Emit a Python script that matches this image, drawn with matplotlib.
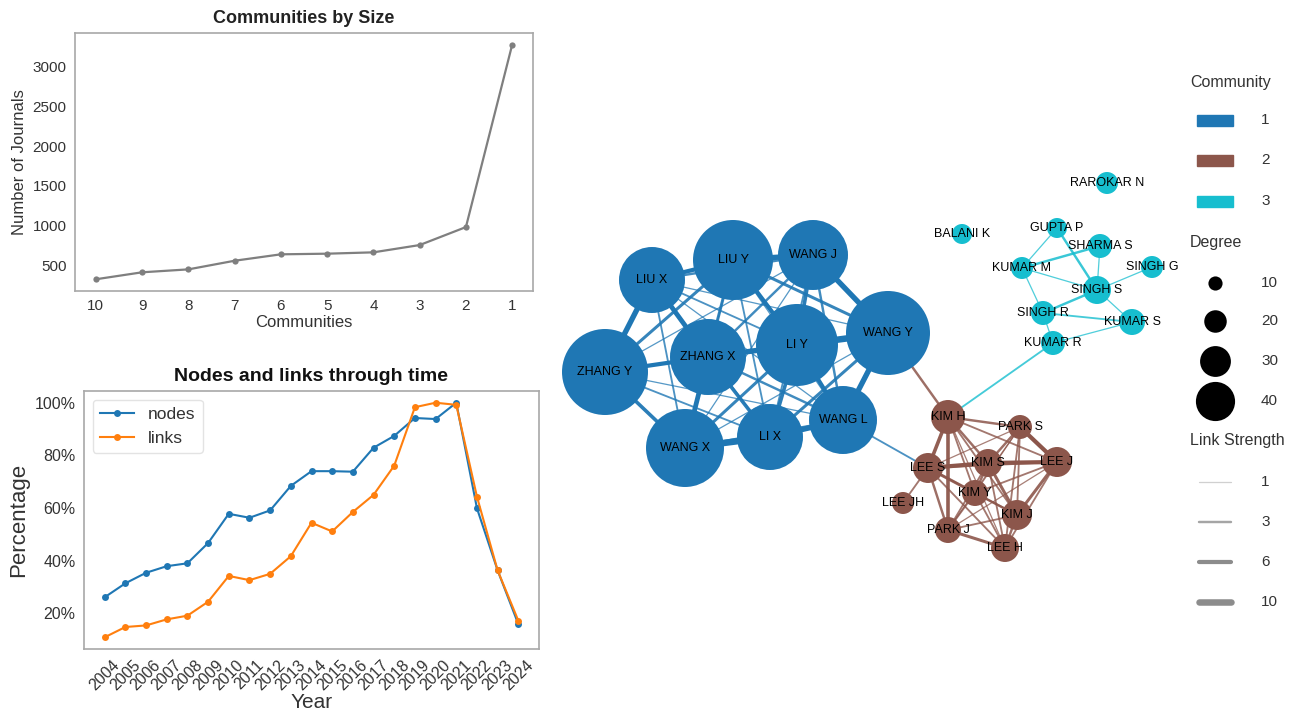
#!/usr/bin/env python3
"""Community size curve, nodes/links growth and the co-author network with its legend."""
import matplotlib; matplotlib.use("Agg")
import matplotlib.pyplot as plt
from matplotlib.ticker import PercentFormatter
from matplotlib.patches import Rectangle

plt.rcParams["font.family"] = ["Liberation Sans", "DejaVu Sans"]
plt.rcParams["text.color"] = "#333333"
plt.rcParams["axes.labelcolor"] = "#333333"
plt.rcParams["xtick.color"] = "#333333"
plt.rcParams["ytick.color"] = "#333333"

# ---------------- data ----------------
comm_ids = ["10", "9", "8", "7", "6", "5", "4", "3", "2", "1"]
comm_sizes = [320, 408, 445, 554, 635, 643, 660, 752, 979, 3281]

years = list(range(2004, 2025))
nodes_pct = [26.1, 31.4, 35.4, 37.9, 39.0, 46.7, 57.8, 56.3, 59.1, 68.4, 74.0,
             74.0, 73.8, 82.9, 87.4, 94.2, 93.8, 100.0, 59.9, 36.3, 15.9]
links_pct = [10.9, 14.8, 15.4, 17.7, 19.1, 24.4, 34.2, 32.6, 35.0, 41.7, 54.4,
             51.1, 58.5, 65.0, 76.1, 98.3, 100.0, 99.2, 64.3, 36.3, 17.2]

# network: author, community, degree, layout x/y (pixel layout of the drawing)
authors = ["LIU X", "LIU Y", "WANG J", "WANG Y", "LI Y", "ZHANG X", "ZHANG Y", "WANG X", "LI X", "WANG L",
           "KIM H", "PARK S", "LEE S", "KIM S", "LEE J", "KIM Y", "LEE JH", "KIM J", "PARK J", "LEE H",
           "RAROKAR N", "BALANI K", "GUPTA P", "SHARMA S", "SINGH G", "KUMAR M", "SINGH S", "SINGH R",
           "KUMAR S", "KUMAR R"]
author_comm = [1] * 10 + [2] * 10 + [3] * 10
author_deg = [31, 38, 33, 40, 39, 36, 41, 37, 31, 32,
              15, 10, 13, 12, 13, 11, 9, 13, 11, 12,
              9, 8, 8, 10, 9, 9, 12, 10, 11, 10]
layout_x = [652, 733, 813, 888, 797, 708, 605, 685, 770, 843,
            948, 1020, 928, 988, 1057, 975, 903, 1017, 948, 1005,
            1107, 962, 1057, 1100, 1152, 1022, 1097, 1043, 1132, 1053]
layout_y = [280, 260, 255, 333, 345, 357, 372, 448, 437, 420,
            417, 427, 468, 463, 462, 493, 503, 515, 530, 548,
            183, 234, 228, 246, 267, 268, 290, 313, 322, 343]

links = [
    # community 1
    ("ZHANG Y", "LIU X", 8), ("ZHANG Y", "ZHANG X", 6), ("ZHANG Y", "WANG X", 5), ("ZHANG Y", "LIU Y", 4),
    ("ZHANG Y", "LI Y", 2), ("ZHANG Y", "LI X", 2), ("ZHANG Y", "WANG L", 1), ("ZHANG Y", "WANG J", 1),
    ("ZHANG Y", "WANG Y", 1), ("LIU X", "LIU Y", 6), ("LIU X", "ZHANG X", 7), ("LIU X", "WANG J", 3),
    ("LIU X", "LI Y", 2), ("LIU X", "WANG X", 2), ("LIU X", "WANG Y", 1), ("LIU X", "LI X", 1),
    ("LIU X", "WANG L", 1), ("LIU Y", "WANG J", 8), ("LIU Y", "LI Y", 6), ("LIU Y", "ZHANG X", 4),
    ("LIU Y", "WANG Y", 4), ("LIU Y", "LI X", 2), ("LIU Y", "WANG X", 1), ("LIU Y", "WANG L", 1),
    ("WANG J", "WANG Y", 8), ("WANG J", "LI Y", 5), ("WANG J", "ZHANG X", 3), ("WANG J", "WANG L", 3),
    ("WANG J", "WANG X", 1), ("WANG J", "LI X", 2), ("WANG Y", "LI Y", 10), ("WANG Y", "WANG L", 8),
    ("WANG Y", "LI X", 4), ("WANG Y", "ZHANG X", 2), ("WANG Y", "WANG X", 1), ("LI Y", "ZHANG X", 8),
    ("LI Y", "LI X", 5), ("LI Y", "WANG L", 6), ("LI Y", "WANG X", 4), ("ZHANG X", "WANG X", 7),
    ("ZHANG X", "LI X", 5), ("ZHANG X", "WANG L", 3), ("WANG X", "LI X", 10), ("WANG X", "WANG L", 3),
    ("LI X", "WANG L", 8),
    # community 2
    ("KIM H", "PARK S", 3), ("KIM H", "LEE S", 5), ("KIM H", "KIM S", 3), ("KIM H", "LEE J", 2),
    ("KIM H", "KIM Y", 2), ("KIM H", "KIM J", 2), ("KIM H", "PARK J", 5), ("KIM H", "LEE H", 1),
    ("PARK S", "LEE S", 1), ("PARK S", "KIM S", 3), ("PARK S", "LEE J", 6), ("PARK S", "KIM Y", 1),
    ("PARK S", "KIM J", 2), ("PARK S", "PARK J", 1), ("PARK S", "LEE H", 2), ("LEE S", "KIM S", 6),
    ("LEE S", "LEE J", 2), ("LEE S", "KIM Y", 4), ("LEE S", "LEE JH", 2), ("LEE S", "KIM J", 2),
    ("LEE S", "PARK J", 3), ("LEE S", "LEE H", 2), ("KIM S", "LEE J", 6), ("KIM S", "KIM Y", 3),
    ("KIM S", "KIM J", 4), ("KIM S", "PARK J", 2), ("KIM S", "LEE H", 2), ("LEE J", "KIM Y", 2),
    ("LEE J", "KIM J", 4), ("LEE J", "PARK J", 1), ("LEE J", "LEE H", 2), ("KIM Y", "KIM J", 3),
    ("KIM Y", "PARK J", 2), ("KIM Y", "LEE H", 2), ("KIM J", "PARK J", 2), ("KIM J", "LEE H", 3),
    ("PARK J", "LEE H", 4),
    # community 3
    ("GUPTA P", "KUMAR M", 1), ("GUPTA P", "SINGH S", 3), ("SHARMA S", "KUMAR M", 3),
    ("SHARMA S", "SINGH S", 1), ("KUMAR M", "SINGH S", 1), ("KUMAR M", "SINGH R", 1),
    ("SINGH S", "SINGH G", 1), ("SINGH S", "SINGH R", 3), ("SINGH S", "KUMAR S", 1),
    ("SINGH R", "KUMAR S", 2), ("SINGH R", "KUMAR R", 1), ("KUMAR R", "KUMAR S", 1),
    # between communities
    ("KIM H", "WANG Y", 3), ("WANG L", "LEE S", 2), ("KUMAR R", "KIM H", 2),
]

legend_comms = ["1", "2", "3"]
legend_degrees = [10, 20, 30, 40]
legend_strengths = [1, 3, 6, 10]

COMM_COLORS = {1: "tab:blue", 2: "tab:brown", 3: "tab:cyan"}
SPINE = "#a8a8a8"


def style(ax):
    for s in ax.spines.values():
        s.set_color(SPINE); s.set_linewidth(1.2)
    ax.tick_params(length=0, pad=6)


def node_pts(deg):       # marker diameter (points) of a network node
    return (2 * deg + 4) * 0.72


def edge_lw(w):
    return 0.5 + 0.42 * w


fig = plt.figure(figsize=(12.9, 7.13), dpi=100)

# ---------------- communities by size ----------------
ax1 = fig.add_axes([75 / 1290, 1 - 291 / 713, 458 / 1290, 258 / 713])
ax1.plot(comm_ids, comm_sizes, color="#7f7f7f", lw=1.6, marker="o", ms=4.5, mew=0)
ax1.set_title("Communities by Size", fontsize=13, fontweight="bold", color="#222222", pad=7)
ax1.set_xlabel("Communities", fontsize=12, labelpad=1)
ax1.set_ylabel("Number of Journals", fontsize=12)
ax1.tick_params(labelsize=11)
style(ax1)

# ---------------- nodes and links through time ----------------
ax2 = fig.add_axes([84 / 1290, 1 - 649 / 713, 455 / 1290, 258 / 713])
ax2.plot(years, nodes_pct, color="tab:blue", lw=1.5, marker="o", ms=5, mew=0, label="nodes")
ax2.plot(years, links_pct, color="tab:orange", lw=1.5, marker="o", ms=5, mew=0, label="links")
ax2.yaxis.set_major_formatter(PercentFormatter(100, decimals=0))
ax2.set_xticks(years)
ax2.set_xticklabels([str(y) for y in years], rotation=45)
ax2.tick_params(labelsize=11.5)
ax2.set_title("Nodes and links through time", fontsize=14, fontweight="bold", color="#111111", pad=7)
ax2.set_xlabel("Year", fontsize=15, labelpad=0)
ax2.set_ylabel("Percentage", fontsize=16)
leg = ax2.legend(loc="upper left", fontsize=12.5, frameon=True)
leg.get_frame().set_edgecolor("#dddddd")
style(ax2)

# ---------------- network (pixel-layout overlay) ----------------
ax = fig.add_axes([0, 0, 1, 1], facecolor="none")
ax.set_xlim(0, 1290); ax.set_ylim(713, 0); ax.axis("off")

idx = {n: i for i, n in enumerate(authors)}
for u, v, w in sorted(links, key=lambda e: e[2]):
    i, j = idx[u], idx[v]
    ax.plot([layout_x[i], layout_x[j]], [layout_y[i], layout_y[j]],
            color=COMM_COLORS[author_comm[i]], lw=edge_lw(w),
            alpha=min(1.0, 0.7 + 0.05 * w), solid_capstyle="butt", zorder=1)

ax.scatter(layout_x, layout_y, s=[node_pts(d) ** 2 for d in author_deg],
           c=[COMM_COLORS[c] for c in author_comm], linewidths=0, zorder=2)
for n, x, y in zip(authors, layout_x, layout_y):
    ax.text(x, y, n, fontsize=9, color="black", ha="center", va="center", zorder=3)

# ---------------- network legend ----------------
HX, LX, TX = 1215, 1261, 1190
ax.text(TX, 82, "Community", fontsize=11.5, va="center")
for k, lab in enumerate(legend_comms):
    y = 120 + 40.5 * k
    ax.add_patch(Rectangle((HX - 18, y - 5.5), 36, 11, color=COMM_COLORS[int(lab)]))
    ax.text(LX, y, lab, fontsize=11, va="center")

ax.text(TX, 242, "Degree", fontsize=11.5, va="center")
for y, d in zip([283, 321, 361, 401], legend_degrees):
    ax.scatter([HX], [y], s=(0.6 * d + 4.2) ** 2, color="black", linewidths=0)
    ax.text(LX, y, str(d), fontsize=11, va="center")

ax.text(TX, 441, "Link Strength", fontsize=11.5, va="center")
for y, w in zip([482, 522, 562, 602], legend_strengths):
    ax.plot([HX - 16, HX + 16], [y, y], color="gray", lw=edge_lw(w),
            alpha=min(0.9, 0.2 + 0.17 * w), solid_capstyle="round")
    ax.text(LX, y, str(w), fontsize=11, va="center")

fig.savefig("out.png", dpi=100)
